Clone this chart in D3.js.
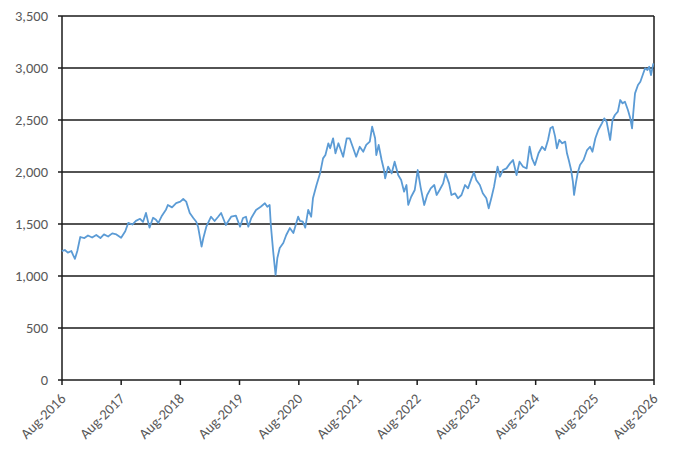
<!DOCTYPE html>
<html>
<head>
<meta charset="utf-8">
<script src="https://cdn.jsdelivr.net/npm/d3@7"></script>
<style>
  body { margin: 0; background: #fff; }
  svg text { font-family: Carlito, Lato, "Noto Sans", sans-serif; fill: #595959; }
</style>
</head>
<body>
<svg width="680" height="464"></svg>
<script>
// decimal years and index level
var years = [
  2016.58, 2016.63, 2016.68, 2016.74, 2016.77, 2016.80, 2016.84, 2016.89, 2016.96, 2017.02,
  2017.09, 2017.16, 2017.23, 2017.29, 2017.36, 2017.43, 2017.50, 2017.58, 2017.65, 2017.70,
  2017.77, 2017.83, 2017.90, 2017.95, 2018.00, 2018.06, 2018.12, 2018.17, 2018.21, 2018.27,
  2018.34, 2018.37, 2018.44, 2018.51, 2018.58, 2018.63, 2018.68, 2018.74, 2018.80, 2018.85,
  2018.88, 2018.94, 2018.97, 2019.02, 2019.10, 2019.16, 2019.22, 2019.27, 2019.35, 2019.44,
  2019.52, 2019.59, 2019.64, 2019.69, 2019.73, 2019.78, 2019.86, 2019.94, 2020.01, 2020.05,
  2020.09, 2020.11, 2020.15, 2020.19, 2020.22, 2020.26, 2020.32, 2020.37, 2020.43, 2020.49,
  2020.57, 2020.60, 2020.65, 2020.69, 2020.74, 2020.79, 2020.82, 2020.88, 2020.94, 2020.99,
  2021.03, 2021.08, 2021.11, 2021.16, 2021.20, 2021.25, 2021.30, 2021.33, 2021.39, 2021.44,
  2021.50, 2021.55, 2021.61, 2021.67, 2021.72, 2021.78, 2021.82, 2021.87, 2021.89, 2021.93,
  2021.98, 2022.02, 2022.04, 2022.09, 2022.15, 2022.20, 2022.26, 2022.31, 2022.36, 2022.40,
  2022.43, 2022.48, 2022.54, 2022.59, 2022.64, 2022.70, 2022.75, 2022.81, 2022.87, 2022.91,
  2022.96, 2023.02, 2023.06, 2023.12, 2023.16, 2023.22, 2023.27, 2023.33, 2023.39, 2023.44,
  2023.50, 2023.54, 2023.58, 2023.64, 2023.69, 2023.75, 2023.79, 2023.84, 2023.88, 2023.94,
  2023.98, 2024.03, 2024.09, 2024.15, 2024.20, 2024.26, 2024.31, 2024.37, 2024.43, 2024.48,
  2024.52, 2024.57, 2024.63, 2024.69, 2024.74, 2024.79, 2024.83, 2024.87, 2024.91, 2024.94,
  2024.98, 2025.03, 2025.08, 2025.11, 2025.14, 2025.18, 2025.21, 2025.23, 2025.26, 2025.29,
  2025.33, 2025.39, 2025.45, 2025.50, 2025.54, 2025.59, 2025.64, 2025.70, 2025.74, 2025.78,
  2025.84, 2025.88, 2025.92, 2025.97, 2026.01, 2026.05, 2026.09, 2026.14, 2026.18, 2026.21,
  2026.23, 2026.26, 2026.31, 2026.35, 2026.39, 2026.43, 2026.47, 2026.50, 2026.53, 2026.57
];
var values = [
  1240, 1250, 1225, 1240, 1200, 1165, 1240, 1375, 1365, 1390,
  1370, 1395, 1365, 1400, 1380, 1410, 1400, 1368, 1430, 1510,
  1495, 1530, 1550, 1520, 1606, 1465, 1560, 1540, 1510, 1580,
  1640, 1683, 1660, 1700, 1715, 1740, 1715, 1606, 1558, 1522,
  1474, 1282, 1365, 1474, 1570, 1529, 1570, 1606, 1490, 1570,
  1580, 1474, 1558, 1570, 1474, 1558, 1635, 1666, 1699, 1666,
  1683, 1490, 1234, 1010, 1173, 1269, 1317, 1394, 1461, 1413,
  1570, 1530, 1522, 1465, 1635, 1570, 1747, 1875, 1987, 2131,
  2163, 2276, 2228, 2324, 2180, 2276, 2195, 2147, 2324, 2324,
  2228, 2147, 2243, 2195, 2260, 2292, 2436, 2324, 2163, 2260,
  2115, 2019, 1939, 2051, 1987, 2099, 1971, 1923, 1811, 1875,
  1683, 1762, 1827, 2019, 1850, 1683, 1779, 1843, 1875, 1779,
  1827, 1891, 1987, 1891, 1779, 1795, 1747, 1779, 1875, 1843,
  1939, 1997, 1923, 1875, 1795, 1747, 1651, 1762, 1859, 2051,
  1955, 2019, 2035, 2083, 2115, 1971, 2099, 2051, 2035, 2243,
  2131, 2067, 2180, 2243, 2211, 2308, 2420, 2436, 2340, 2228,
  2308, 2276, 2292, 2180, 2115, 2019, 1907, 1779, 1891, 1987,
  2067, 2115, 2211, 2243, 2195, 2324, 2404, 2468, 2516, 2484,
  2308, 2500, 2548, 2580, 2692, 2660, 2676, 2596, 2516, 2420,
  2564, 2756, 2836, 2868, 2932, 2997, 2981, 3012, 2932, 3045
];
var tickYears = [2016, 2017, 2018, 2019, 2020, 2021, 2022, 2023, 2024, 2025, 2026];
var yTicks = [0, 500, 1000, 1500, 2000, 2500, 3000, 3500];

function toDate(y) {
  var yr = Math.floor(y),
      start = new Date(yr, 0, 1),
      end = new Date(yr + 1, 0, 1);
  return new Date(+start + (y - yr) * (end - start));
}

var data = years.map(function (y, i) { return { date: toDate(y), value: values[i] }; });

var svg = d3.select("svg"),
    plotLeft = 62, plotRight = 654, plotTop = 16, plotBottom = 380;

var x = d3.scaleTime()
    .domain([new Date(2016, 7, 1), new Date(2026, 7, 1)])
    .range([plotLeft, plotRight]);

var y = d3.scaleLinear()
    .domain([0, 3500])
    .range([plotBottom, plotTop]);

var fmt = d3.format(",");
var monthFmt = d3.timeFormat("%b-%Y");

// horizontal gridlines
svg.selectAll(".grid")
  .data(yTicks)
  .enter()
  .append("line")
    .attr("x1", plotLeft - 4)
    .attr("x2", plotRight)
    .attr("y1", function (d) { return y(d); })
    .attr("y2", function (d) { return y(d); })
    .attr("stroke", "#1a1a1a")
    .attr("stroke-width", 1.5);

// y labels
svg.selectAll(".ylab")
  .data(yTicks)
  .enter()
  .append("text")
    .attr("x", plotLeft - 14)
    .attr("y", function (d) { return y(d); })
    .attr("dy", "0.35em")
    .attr("text-anchor", "end")
    .style("font-size", "14.5px")
    .text(function (d) { return fmt(d); });

// frame: left axis and right edge
svg.append("line")
  .attr("x1", plotLeft).attr("x2", plotLeft)
  .attr("y1", plotTop).attr("y2", plotBottom)
  .attr("stroke", "#1a1a1a").attr("stroke-width", 1.5);
svg.append("line")
  .attr("x1", plotRight).attr("x2", plotRight)
  .attr("y1", plotTop).attr("y2", plotBottom)
  .attr("stroke", "#1a1a1a").attr("stroke-width", 1.5);

// x ticks + labels
var tickDates = tickYears.map(function (yr) { return new Date(yr, 7, 1); });

svg.selectAll(".xtick")
  .data(tickDates)
  .enter()
  .append("line")
    .attr("x1", function (d) { return x(d); })
    .attr("x2", function (d) { return x(d); })
    .attr("y1", plotBottom)
    .attr("y2", plotBottom + 5)
    .attr("stroke", "#1a1a1a")
    .attr("stroke-width", 1.5);

svg.selectAll(".xlab")
  .data(tickDates)
  .enter()
  .append("text")
    .attr("transform", function (d) { return "translate(" + (x(d) + 1) + "," + (plotBottom + 16) + ") rotate(-45)"; })
    .attr("text-anchor", "end")
    .attr("dy", "0.35em")
    .style("font-size", "14.5px")
    .text(function (d) { return monthFmt(d); });

// the series
var line = d3.line()
    .x(function (d) { return x(d.date); })
    .y(function (d) { return y(d.value); });

svg.append("path")
  .datum(data)
  .attr("d", line)
  .attr("fill", "none")
  .attr("stroke", "#5b9bd5")
  .attr("stroke-width", 1.8)
  .attr("stroke-linejoin", "round");
</script>
</body>
</html>
